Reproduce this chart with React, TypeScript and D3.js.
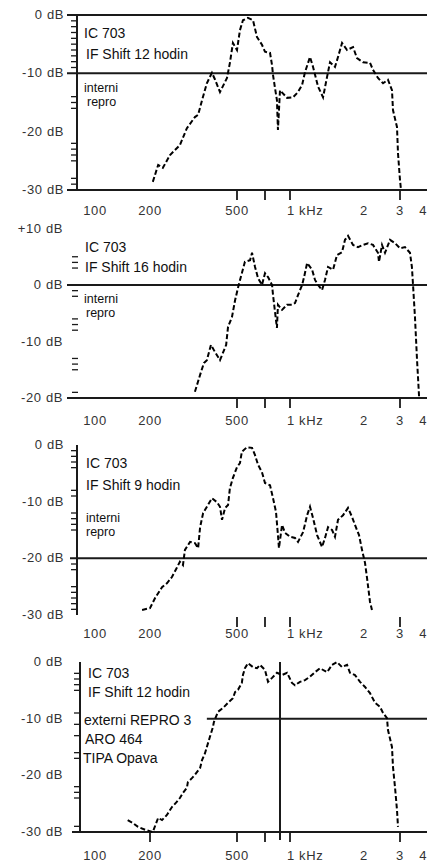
import React from 'react';
import * as d3 from 'd3';

// frequency axis (Hz) – the scanned axis is not a clean log scale, so it is piecewise
const axisHz = [100, 200, 500, 700, 1000, 2000, 3000, 4000];
const labelHz = [100, 200, 500, 1000, 2000, 3000, 4000];
const labelText = ['100', '200', '500', '1 kHz', '2', '3', '4'];
const markHz = [500, 700, 1000, 3000];
const markHzLast = [200, 500, 700, 1000, 3000];

const yTicks = [0, -10, -20, -30];
const yTicks2 = [10, 0, -10, -20];

// panel 1: IF Shift 12 hodin, interni repro
const p1Hz = [206, 218, 229, 247, 274, 295, 321, 332, 346, 364, 384, 397, 418, 450, 464, 479, 500, 518, 537, 570, 606, 636, 675, 700, 752, 774, 785, 807, 830, 842, 867, 959, 1029, 1078, 1120, 1151, 1206, 1241, 1301, 1363, 1415, 1455, 1524, 1568, 1628, 1706, 1805, 1873, 1982, 2140, 2213, 2341, 2478, 2620, 2741, 2772, 2900, 2933, 3000, 3035];
const p1Db = [-28.6, -25.7, -26.2, -24.0, -22.3, -19.4, -17.5, -17.1, -14.6, -11.7, -9.9, -11.1, -13.2, -10.8, -8.2, -4.8, -6.0, -2.6, -0.9, -0.5, -0.9, -3.8, -5.1, -6.3, -6.5, -8.6, -10.3, -12.5, -14.6, -19.7, -12.9, -14.2, -14.1, -13.2, -12.0, -9.8, -7.2, -8.9, -12.3, -14.1, -10.6, -8.1, -8.9, -7.2, -4.8, -6.0, -5.5, -7.4, -8.1, -8.2, -9.4, -10.8, -11.7, -11.1, -12.9, -16.3, -19.2, -23.7, -28.3, -30];
const p1Minor = [-1, -2, -3, -4, -5, -6, -7, -8, -9, -14, -15, -16, -22, -23, -24, -25, -28, -29];

// panel 2: IF Shift 16 hodin
const p2Hz = [321, 339, 353, 364, 380, 397, 418, 446, 455, 474, 490, 506, 530, 550, 585, 599, 621, 644, 675, 700, 731, 774, 785, 830, 842, 893, 959, 1019, 1048, 1078, 1120, 1141, 1174, 1230, 1264, 1301, 1350, 1388, 1428, 1497, 1553, 1628, 1674, 1722, 1805, 1891, 1982, 2094, 2213, 2341, 2368, 2450, 2534, 2681, 2836, 3000, 3177, 3365, 3440, 3480, 3564, 3650, 3740];
const p2Db = [-18.9, -15.9, -13.8, -13.3, -10.6, -11.9, -13.3, -10.6, -7.4, -5.7, -2.7, -0.5, 2.1, 4.1, 4.4, 5.7, 3.2, 1.2, 0, 2.1, 1.4, 0, -1.8, -7.6, -3.5, -4.4, -3.5, -3.5, -3.2, -1.8, 0, 1.4, 3.9, 2.7, 0.9, 0, -0.9, 0.9, 3.2, 2.7, 5.3, 5.8, 8.0, 8.7, 7.1, 6.7, 7.1, 7.4, 7.1, 5.7, 4.1, 7.1, 5.7, 8.0, 7.4, 6.5, 6.7, 5.7, 3.2, 0.4, -5.7, -13.3, -20];
const p2Minor = [5, 4, 3, -1, -2, -6, -7, -8, -13, -14, -15, -19];

// panel 3: IF Shift 9 hodin
const p3Hz = [181, 200, 211, 227, 239, 252, 265, 274, 283, 289, 305, 321, 332, 339, 350, 368, 384, 405, 418, 427, 441, 455, 464, 479, 500, 518, 530, 563, 599, 621, 644, 675, 700, 752, 785, 819, 842, 854, 893, 931, 1000, 1048, 1078, 1130, 1174, 1206, 1241, 1289, 1350, 1388, 1428, 1483, 1524, 1568, 1643, 1722, 1788, 1838, 1909, 1963, 2023, 2070, 2140, 2188];
const p3Db = [-29.1, -28.8, -27.0, -25.1, -24.4, -23.3, -21.7, -20.6, -21.2, -18.5, -17.1, -17.3, -18.2, -14.5, -12.0, -10.6, -9.4, -10.1, -10.9, -13.2, -11.1, -10.6, -7.6, -5.8, -3.9, -3.2, -1.2, -0.4, -0.5, -1.8, -3.5, -4.8, -6.7, -7.1, -9.4, -11.8, -15.9, -18.2, -14.1, -15.5, -16.2, -16.4, -17.1, -15.4, -12.4, -10.9, -12.9, -15.9, -18.0, -16.4, -14.5, -15.0, -16.2, -13.2, -12.4, -11.1, -12.7, -14.1, -15.9, -18.5, -20.8, -23.5, -27.7, -29.1];
const p3Minor = [-1, -2, -3, -4, -8, -9, -12, -13, -14, -15, -21, -22, -25, -26, -27, -28, -29];

// panel 4: IF Shift 12 hodin, externi REPRO 3
const p4Hz = [151, 161, 172, 188, 206, 218, 227, 239, 252, 265, 274, 283, 295, 298, 311, 321, 339, 346, 357, 364, 376, 388, 392, 409, 432, 455, 479, 490, 506, 530, 537, 550, 570, 606, 636, 659, 700, 731, 774, 830, 893, 959, 1019, 1048, 1098, 1151, 1206, 1264, 1324, 1415, 1483, 1553, 1628, 1706, 1754, 1838, 1927, 2023, 2140, 2264, 2395, 2478, 2591, 2620, 2741, 2772, 2836, 2900, 2933];
const p4Db = [-27.9, -28.4, -29.1, -29.6, -30, -27.5, -27.9, -27.0, -25.6, -24.7, -24.0, -23.1, -22.2, -21.2, -20.5, -19.9, -18.7, -17.3, -16.1, -15.0, -13.2, -11.5, -10.6, -8.8, -8.1, -7.2, -6.4, -5.3, -4.9, -3.7, -2.3, -1.1, -0.2, -0.9, -1.1, -0.5, -1.4, -3.5, -2.8, -1.9, -2.3, -1.9, -3.7, -4.1, -3.5, -3.2, -2.6, -1.8, -1.1, -1.8, -0.5, 0, -0.9, -0.5, -1.9, -2.3, -3.5, -4.4, -5.5, -7.2, -7.9, -9.0, -9.9, -12.0, -15.0, -18.5, -22.1, -26.1, -29.1];
const p4Minor = [-2, -3, -4, -5, -9, -11, -13, -16, -17, -22, -23, -24, -29];
const p4MarkerHz = 867;
const p4RefStartHz = 364;

const ink = '#1a1a1a';
const font = '"Liberation Sans", Arial, sans-serif';

function Panel({ cfg, x }) {
  const y = d3.scaleLinear().domain(cfg.db).range([cfg.top, cfg.bottom]);
  const line = d3.line()
    .x((_, i) => x(cfg.hz[i]))
    .y((_, i) => y(cfg.vals[i]));
  const right = 427;
  return (
    <g>
      {cfg.vAxis && (
        <line x1={cfg.axisX} x2={cfg.axisX} y1={cfg.top} y2={cfg.bottom} stroke={ink} strokeWidth={2} />
      )}
      {cfg.hLines.map((h, i) => (
        <line key={'h' + i} x1={h.from != null ? x(h.from) : cfg.lineLeft} x2={right}
          y1={y(h.db)} y2={y(h.db)} stroke={ink} strokeWidth={2} />
      ))}
      {cfg.minor.map((d, i) => (
        <line key={'m' + i} x1={cfg.axisX - 6} x2={cfg.axisX} y1={y(d)} y2={y(d)} stroke={ink} strokeWidth={1.3} />
      ))}
      {cfg.ticks.map((d, i) => (
        <text key={'yl' + i} x={cfg.labelRight} y={y(d) + 4} textAnchor="end" fontSize={13}
          fontFamily={font} fill="#333" letterSpacing={0.6}>{cfg.tickText[i]}</text>
      ))}
      {cfg.marks.map((f, i) => (
        <line key={'xm' + i} x1={x(f)} x2={x(f)} y1={cfg.markY} y2={cfg.markY + 10} stroke={ink} strokeWidth={1.8} />
      ))}
      {labelHz.map((f, i) => {
        const last = i === labelHz.length - 1;
        const anchor = f === 1000 ? 'start' : last ? 'end' : 'middle';
        const lx = f === 1000 ? x(f) - 3 : last ? x(f) + 2 : x(f);
        return (
          <text key={'xl' + i} x={lx} y={cfg.xLabelY} textAnchor={anchor} fontSize={13} fontFamily={font}
            fill="#333" letterSpacing={0.6}>{labelText[i]}</text>
        );
      })}
      {cfg.marker != null && (
        <line x1={x(cfg.marker)} x2={x(cfg.marker)} y1={cfg.top} y2={cfg.bottom + 8} stroke={ink} strokeWidth={2} />
      )}
      {cfg.notes.map((n, i) => (
        <text key={'n' + i} x={n.x} y={n.y} fontSize={n.s || 14} fontFamily={font} fill="#111">{n.t}</text>
      ))}
      <path d={line(cfg.hz)} fill="none" stroke="#000" strokeWidth={2} strokeDasharray="5 2.5" />
    </g>
  );
}

export default function App() {
  const x = d3.scaleLog().domain(axisHz).range([95, 150, 237, 265, 290, 364, 400, 425]);

  const panels = [
    {
      hz: p1Hz, vals: p1Db, db: [0, -30], top: 15, bottom: 190, axisX: 77, vAxis: true,
      lineLeft: 67, hLines: [{ db: 0 }, { db: -10 }, { db: -30 }], minor: p1Minor,
      ticks: yTicks, tickText: ['0 dB', '-10 dB', '-20 dB', '-30 dB'], labelRight: 64,
      marks: markHz, markY: 190, xLabelY: 215,
      notes: [
        { t: 'IC 703', x: 84, y: 38 }, { t: 'IF Shift 12 hodin', x: 86, y: 59 },
        { t: 'interni', x: 84, y: 92, s: 12.5 }, { t: 'repro', x: 87, y: 106, s: 12.5 },
      ],
    },
    {
      hz: p2Hz, vals: p2Db, db: [10, -20], top: 228.5, bottom: 398, axisX: 78, vAxis: false,
      lineLeft: 67, hLines: [{ db: 0 }, { db: -20 }], minor: p2Minor,
      ticks: yTicks2, tickText: ['+10 dB', '0 dB', '-10 dB', '-20 dB'], labelRight: 63,
      marks: markHz, markY: 398, xLabelY: 425,
      notes: [
        { t: 'IC 703', x: 85, y: 252 }, { t: 'IF Shift 16 hodin', x: 85, y: 272 },
        { t: 'interni', x: 84, y: 303, s: 12.5 }, { t: 'repro', x: 86, y: 317, s: 12.5 },
      ],
    },
    {
      hz: p3Hz, vals: p3Db, db: [0, -30], top: 445, bottom: 615, axisX: 77, vAxis: true,
      lineLeft: 70, hLines: [{ db: -20 }], minor: p3Minor,
      ticks: yTicks, tickText: ['0 dB', '-10 dB', '-20 dB', '-30 dB'], labelRight: 64,
      marks: markHz, markY: 617, xLabelY: 638,
      notes: [
        { t: 'IC 703', x: 86, y: 468 }, { t: 'IF Shift 9 hodin', x: 86, y: 490 },
        { t: 'interni', x: 86, y: 522, s: 12.5 }, { t: 'repro', x: 86, y: 536, s: 12.5 },
      ],
    },
    {
      hz: p4Hz, vals: p4Db, db: [0, -30], top: 662, bottom: 832, axisX: 80, vAxis: true,
      lineLeft: 72, hLines: [{ db: -10, from: p4RefStartHz }, { db: -30 }], minor: p4Minor,
      ticks: yTicks, tickText: ['0 dB', '-10 dB', '-20 dB', '-30 dB'], labelRight: 63,
      marks: markHzLast, markY: 832, xLabelY: 860, marker: p4MarkerHz,
      notes: [
        { t: 'IC 703', x: 88, y: 678 }, { t: 'IF Shift 12 hodin', x: 88, y: 697 },
        { t: 'externi REPRO 3', x: 84, y: 725 }, { t: 'ARO 464', x: 85, y: 744 },
        { t: 'TIPA Opava', x: 83, y: 763 },
      ],
    },
  ];

  return (
    <svg width={427} height={862} style={{ position: 'absolute', left: 0, top: 0, background: '#fff' }}>
      {panels.map((cfg, i) => <Panel key={i} cfg={cfg} x={x} />)}
    </svg>
  );
}
